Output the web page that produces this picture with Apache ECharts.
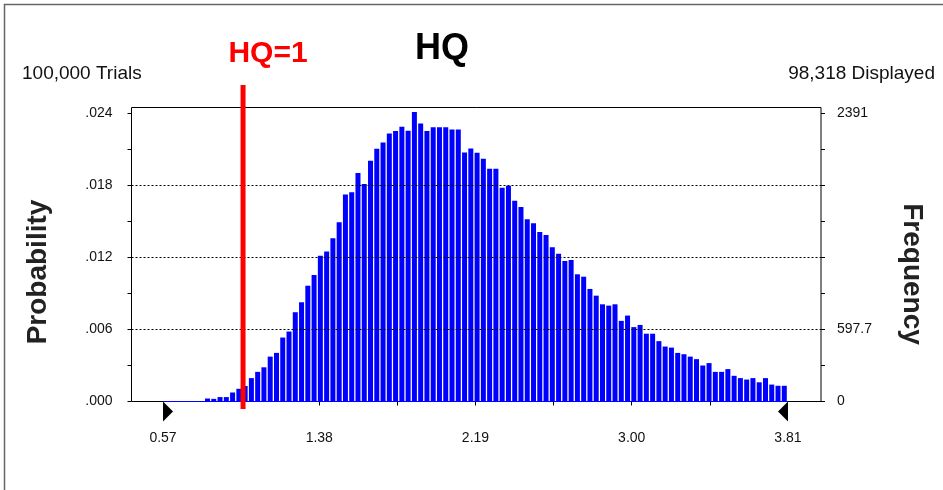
<!DOCTYPE html>
<html>
<head>
<meta charset="utf-8">
<title>HQ</title>
<script src="https://cdn.jsdelivr.net/npm/echarts@6/dist/echarts.min.js"></script>
<style>
html, body { margin: 0; padding: 0; background: #fff; }
#hq-chart { width: 943px; height: 490px; }
</style>
</head>
<body>
<div id="hq-chart"></div>
<script>
// probability of each bin (100,000 trials)
var probability = [
  0, 0, 0, 0, 0, 0,
  0.00025, 0.00022, 0.00037, 0.00037, 0.00075, 0.00106, 0.00129, 0.00195, 0.00247, 0.00285,
  0.00374, 0.00405, 0.00533, 0.00583,
  0.00744, 0.00827, 0.00965, 0.01054, 0.01215, 0.0125, 0.0136, 0.01493, 0.01724, 0.01743,
  0.01905, 0.01812, 0.02006, 0.02107, 0.02159, 0.02234, 0.02254, 0.02289, 0.02257, 0.02413,
  0.02317, 0.02254, 0.02286, 0.02286, 0.02286, 0.02267, 0.02267, 0.02074, 0.02109, 0.02072,
  0.02022, 0.01939, 0.01939, 0.01781, 0.01798, 0.01673, 0.0162, 0.01519, 0.01485, 0.01412,
  0.01387, 0.01285, 0.01232, 0.01171, 0.01179, 0.0106, 0.0104, 0.00938, 0.00882, 0.0081,
  0.00799, 0.0081, 0.00672, 0.00716, 0.0062, 0.00638, 0.00565, 0.00565, 0.00503, 0.00458,
  0.00449, 0.00405, 0.00394, 0.00374, 0.00353, 0.003, 0.0032, 0.00247, 0.00247, 0.0027,
  0.00214, 0.00195, 0.00183, 0.00195, 0.0016, 0.00195, 0.00141, 0.00131, 0.00131
];
var binStart = 0.57;
var binWidth = 0.0325;
var xRange = [0.57, 3.81];
var xTickValues = [0.975, 1.38, 1.785, 2.19, 2.595, 3.00, 3.405];
var xLabelValues = [0.57, 1.38, 2.19, 3.00, 3.81];
var probTickValues = [0, 0.003, 0.006, 0.009, 0.012, 0.015, 0.018, 0.021, 0.024];
var probLabelValues = [0, 0.006, 0.012, 0.018, 0.024];
var gridValues = [0.006, 0.012, 0.018];
var freqMax = 2391;
var freqLabelValues = [0, 597.75, 2391];
var freqLabelText = ['0', '597.7', '2391'];
var hqLine = 0.985;

var FONT = '"Liberation Sans", Arial, sans-serif';

var xMin = 0.4067, xMax = 3.9811;
var probMax = 0.0245;
var freqTickValues = probTickValues.map(function (p) { return p / 0.024 * freqMax; });

var barData = probability.map(function (p, i) {
  return [binStart + binWidth * (i + 1.1), p];
});

var chart = echarts.init(document.getElementById('hq-chart'));

var option = {
  animation: false,
  backgroundColor: '#fff',
  grid: {
    left: 131.5,
    right: 122,
    top: 107.5,
    bottom: 88.5,
    show: true,
    borderColor: '#000',
    borderWidth: 1,
    containLabel: false,
    outerBoundsMode: 'none'
  },
  xAxis: {
    type: 'value',
    min: xMin,
    max: xMax,
    axisLine: { show: false },
    splitLine: { show: false },
    axisTick: {
      show: true,
      customValues: xTickValues,
      length: 4,
      lineStyle: { color: '#000', width: 1 }
    },
    axisLabel: {
      customValues: xLabelValues,
      formatter: function (v) { return v.toFixed(2); },
      margin: 30,
      color: '#111',
      fontSize: 14,
      fontFamily: FONT
    }
  },
  yAxis: [
    {
      type: 'value',
      position: 'left',
      min: 0,
      max: probMax,
      axisLine: { show: false },
      splitLine: { show: false },
      axisTick: {
        show: true,
        customValues: probTickValues,
        length: 4,
        lineStyle: { color: '#000', width: 1 }
      },
      axisLabel: {
        customValues: probLabelValues,
        formatter: function (v) { return v.toFixed(3).replace(/^0/, ''); },
        margin: 19,
        color: '#111',
        fontSize: 14,
        fontFamily: FONT
      }
    },
    {
      type: 'value',
      position: 'right',
      min: 0,
      max: probMax / 0.024 * freqMax,
      axisLine: { show: false },
      splitLine: { show: false },
      axisTick: {
        show: true,
        customValues: freqTickValues,
        length: 4,
        lineStyle: { color: '#000', width: 1 }
      },
      axisLabel: {
        customValues: freqLabelValues,
        formatter: function (v) {
          for (var k = 0; k < freqLabelValues.length; k++) {
            if (Math.abs(v - freqLabelValues[k]) < 0.01) return freqLabelText[k];
          }
          return '';
        },
        margin: 16,
        color: '#111',
        fontSize: 14,
        fontFamily: FONT
      }
    }
  ],
  series: [
    {
      type: 'line',
      data: [[xRange[0], 0], [xRange[1], 0]],
      symbol: 'none',
      lineStyle: { color: '#0000ff', width: 1 },
      silent: true,
      z: 1,
      markPoint: {
        silent: true,
        label: { show: false },
        itemStyle: { color: '#000' },
        data: [
          { coord: [xRange[0], 0], symbol: 'path://M0,0L10,10L0,20Z', symbolSize: [10, 20], symbolOffset: [5, 10] },
          { coord: [xRange[1], 0], symbol: 'path://M10,0L0,10L10,20Z', symbolSize: [10, 20], symbolOffset: [-5, 10] }
        ]
      }
    },
    {
      type: 'bar',
      data: barData,
      barWidth: 5,
      itemStyle: { color: '#0000ff' },
      silent: true,
      z: 2,
      markLine: {
        silent: true,
        symbol: ['none', 'none'],
        label: { show: false },
        lineStyle: { color: '#000', type: [2, 2], width: 1 },
        data: gridValues.map(function (v) {
          return [{ coord: [xMin, v] }, { coord: [xMax, v] }];
        })
      }
    }
  ],
  graphic: [
    {
      type: 'rect',
      shape: { x: 4.5, y: 4.5, width: 960, height: 520 },
      style: { fill: 'none', stroke: '#666', lineWidth: 1.5 },
      silent: true
    },
    {
      type: 'text',
      x: 442, y: 49,
      style: { text: 'HQ', fontSize: 36, fontWeight: 'bold', fontFamily: FONT, fill: '#000', align: 'center', verticalAlign: 'middle' }
    },
    {
      type: 'text',
      x: 22, y: 74,
      style: { text: '100,000 Trials', fontSize: 19, fontFamily: FONT, fill: '#111', align: 'left', verticalAlign: 'middle' }
    },
    {
      type: 'text',
      x: 935, y: 74,
      style: { text: '98,318 Displayed', fontSize: 19, fontFamily: FONT, fill: '#111', align: 'right', verticalAlign: 'middle' }
    },
    {
      type: 'text',
      x: 38, y: 272, rotation: Math.PI / 2,
      style: { text: 'Probability', fontSize: 28, fontWeight: 'bold', fontFamily: FONT, fill: '#222', align: 'center', verticalAlign: 'middle' }
    },
    {
      type: 'text',
      x: 912, y: 274, rotation: -Math.PI / 2,
      style: { text: 'Frequency', fontSize: 28, fontWeight: 'bold', fontFamily: FONT, fill: '#222', align: 'center', verticalAlign: 'middle' }
    }
  ]
};

chart.setOption(option);

// red HQ=1 marker, placed through the x scale
var hqX = chart.convertToPixel({ xAxisIndex: 0 }, hqLine);
chart.setOption({
  graphic: option.graphic.concat([
    {
      type: 'line',
      shape: { x1: hqX, y1: 85, x2: hqX, y2: 409 },
      style: { stroke: '#ff0000', lineWidth: 5 },
      z: 10
    },
    {
      type: 'text',
      x: hqX + 25, y: 54,
      style: { text: 'HQ=1', fontSize: 30, fontWeight: 'bold', fontFamily: FONT, fill: '#ff0000', align: 'center', verticalAlign: 'middle' }
    }
  ])
});
</script>
</body>
</html>
